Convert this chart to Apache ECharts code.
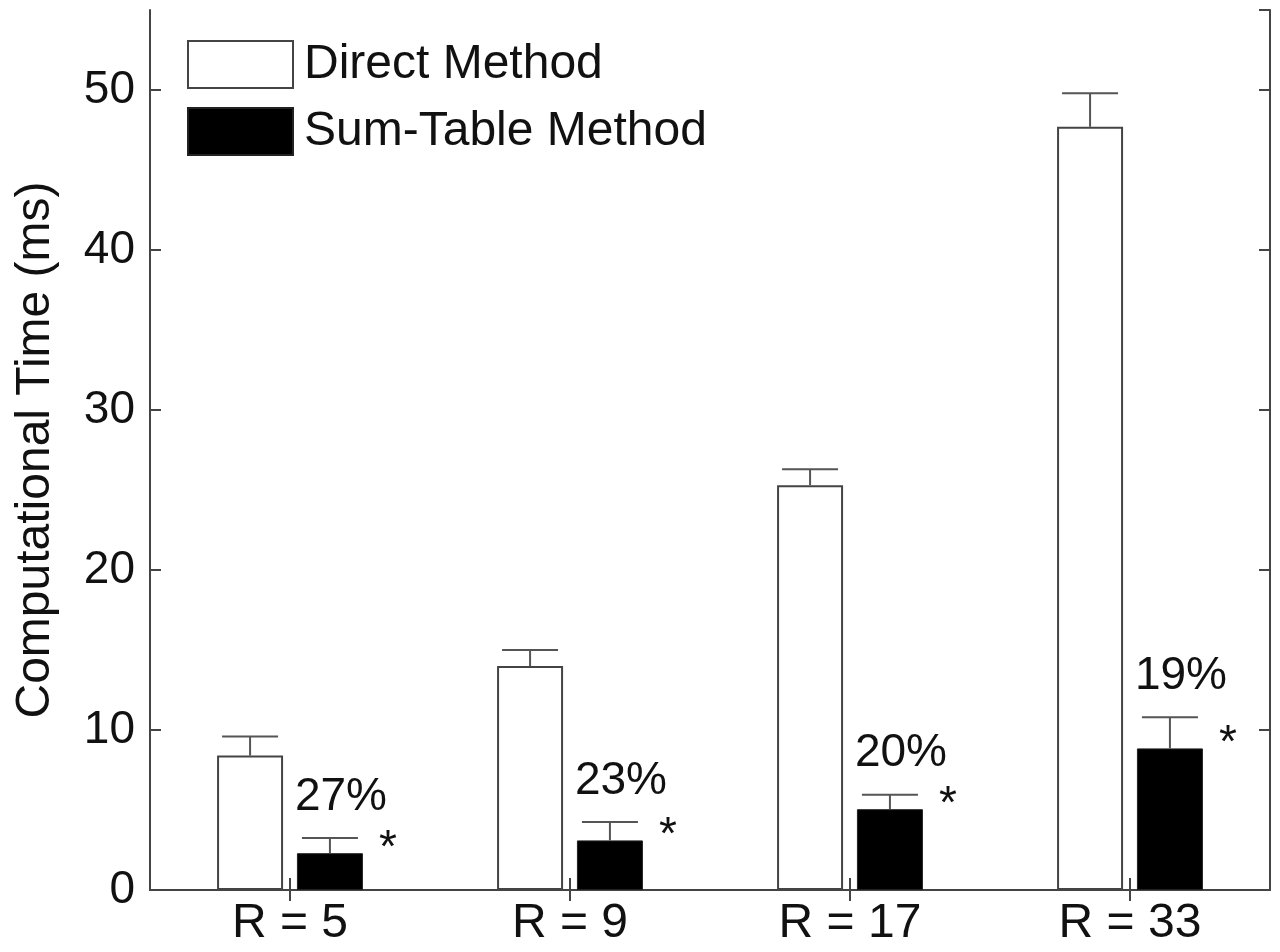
<!DOCTYPE html>
<html>
<head>
<meta charset="utf-8">
<script src="https://cdn.jsdelivr.net/npm/echarts@6/dist/echarts.min.js"></script>
<style>
  html, body { margin: 0; padding: 0; background: #fff; }
  #chart { width: 1280px; height: 952px; }
</style>
</head>
<body>
<div id="chart"></div>
<script>
// Mean computational time per neighbourhood radius, with error-bar tops
const categories = ['R = 5', 'R = 9', 'R = 17', 'R = 33'];
const directMean = [8.4, 14.0, 25.3, 47.7];
const directUpper = [9.6, 15.0, 26.3, 49.8];
const sumTableMean = [2.3, 3.1, 5.05, 8.85];
const sumTableUpper = [3.25, 4.25, 5.95, 10.8];
const ratioLabels = ['27%', '23%', '20%', '19%'];
const markText = '*';
const yTicks = { min: 0, max: 55, interval: 10 };

const FONT = 'Liberation Sans, Arial, Helvetica, sans-serif';
const AXIS_COLOR = '#444';
const BAR_WIDTH = 66;
const BAR_GAP = 0.21;
const HALF_STEP = (BAR_WIDTH * (1 + BAR_GAP)) / 2;

function errorData(mean, upper) {
  return mean.map((m, i) => [i, m, upper[i]]);
}

function errorRenderer(offset, annotate) {
  return function (params, api) {
    const i = api.value(0);
    const cx = api.coord([i, 0])[0] + offset;
    const top = api.coord([i, api.value(1)])[1];
    const cap = api.coord([i, api.value(2)])[1];
    const style = { stroke: '#555', lineWidth: 2 };
    const children = [
      { type: 'line', shape: { x1: cx, y1: top, x2: cx, y2: cap }, style },
      { type: 'line', shape: { x1: cx - 28, y1: cap, x2: cx + 28, y2: cap }, style }
    ];
    if (annotate) {
      children.push({
        type: 'text',
        style: {
          text: ratioLabels[i], x: cx + 11, y: cap - 41,
          align: 'center', verticalAlign: 'middle',
          font: '46px ' + FONT, fill: '#111'
        }
      });
      children.push({
        type: 'text',
        style: {
          text: markText, x: cx + 58, y: top - 4,
          align: 'center', verticalAlign: 'middle',
          font: '46px ' + FONT, fill: '#111'
        }
      });
    }
    return { type: 'group', children };
  };
}

const chart = echarts.init(document.getElementById('chart'), null, { renderer: 'canvas' });

const baseAxisLine = { show: true, lineStyle: { color: AXIS_COLOR, width: 2 } };

chart.setOption({
  animation: false,
  backgroundColor: '#fff',
  textStyle: { fontFamily: FONT },
  grid: { left: 150, right: 10, top: 10, bottom: 62, containLabel: false },
  legend: {
    left: 182, top: 35, orient: 'vertical',
    itemWidth: 105, itemHeight: 47, itemGap: 18,
    icon: 'rect',
    textStyle: { fontSize: 48, color: '#111', fontFamily: FONT, padding: [0, 0, 0, 6] },
    data: ['Direct Method', 'Sum-Table Method']
  },
  xAxis: [
    {
      type: 'category', data: categories, position: 'bottom',
      axisLine: baseAxisLine,
      axisTick: { show: true, inside: true, alignWithLabel: true, length: 12, lineStyle: { color: AXIS_COLOR, width: 2 } },
      axisLabel: { fontSize: 48, color: '#111', margin: 10, fontFamily: FONT }
    },
    {
      type: 'category', data: categories, position: 'top',
      axisLine: baseAxisLine,
      axisTick: { show: true, inside: true, alignWithLabel: true, length: 11, lineStyle: { color: AXIS_COLOR, width: 2 } },
      axisLabel: { show: false }
    }
  ],
  yAxis: [
    {
      type: 'value', position: 'left',
      min: yTicks.min, max: yTicks.max, interval: yTicks.interval,
      name: 'Computational Time (ms)', nameLocation: 'middle', nameGap: 90,
      nameTextStyle: { fontSize: 48, color: '#111', fontFamily: FONT },
      axisLine: baseAxisLine,
      axisTick: { show: true, inside: true, length: 11, lineStyle: { color: AXIS_COLOR, width: 2 } },
      axisLabel: { fontSize: 46, color: '#111', margin: 15, fontFamily: FONT, showMaxLabel: false },
      splitLine: { show: false }
    },
    {
      type: 'value', position: 'right',
      min: yTicks.min, max: yTicks.max, interval: yTicks.interval,
      axisLine: baseAxisLine,
      axisTick: { show: true, inside: true, length: 11, lineStyle: { color: AXIS_COLOR, width: 2 } },
      axisLabel: { show: false },
      splitLine: { show: false }
    }
  ],
  series: [
    {
      name: 'Direct Method', type: 'bar', data: directMean,
      barWidth: BAR_WIDTH, barGap: (BAR_GAP * 100) + '%',
      itemStyle: { color: '#fff', borderColor: '#444', borderWidth: 2 }
    },
    {
      name: 'Sum-Table Method', type: 'bar', data: sumTableMean,
      barWidth: BAR_WIDTH,
      itemStyle: { color: '#000', borderColor: '#222', borderWidth: 1 }
    },
    {
      type: 'custom', name: 'direct-error', z: 5,
      data: errorData(directMean, directUpper),
      encode: { x: 0, y: [1, 2] },
      renderItem: errorRenderer(-HALF_STEP, false)
    },
    {
      type: 'custom', name: 'sum-error', z: 5,
      data: errorData(sumTableMean, sumTableUpper),
      encode: { x: 0, y: [1, 2] },
      renderItem: errorRenderer(HALF_STEP, true)
    }
  ]
});
</script>
</body>
</html>
